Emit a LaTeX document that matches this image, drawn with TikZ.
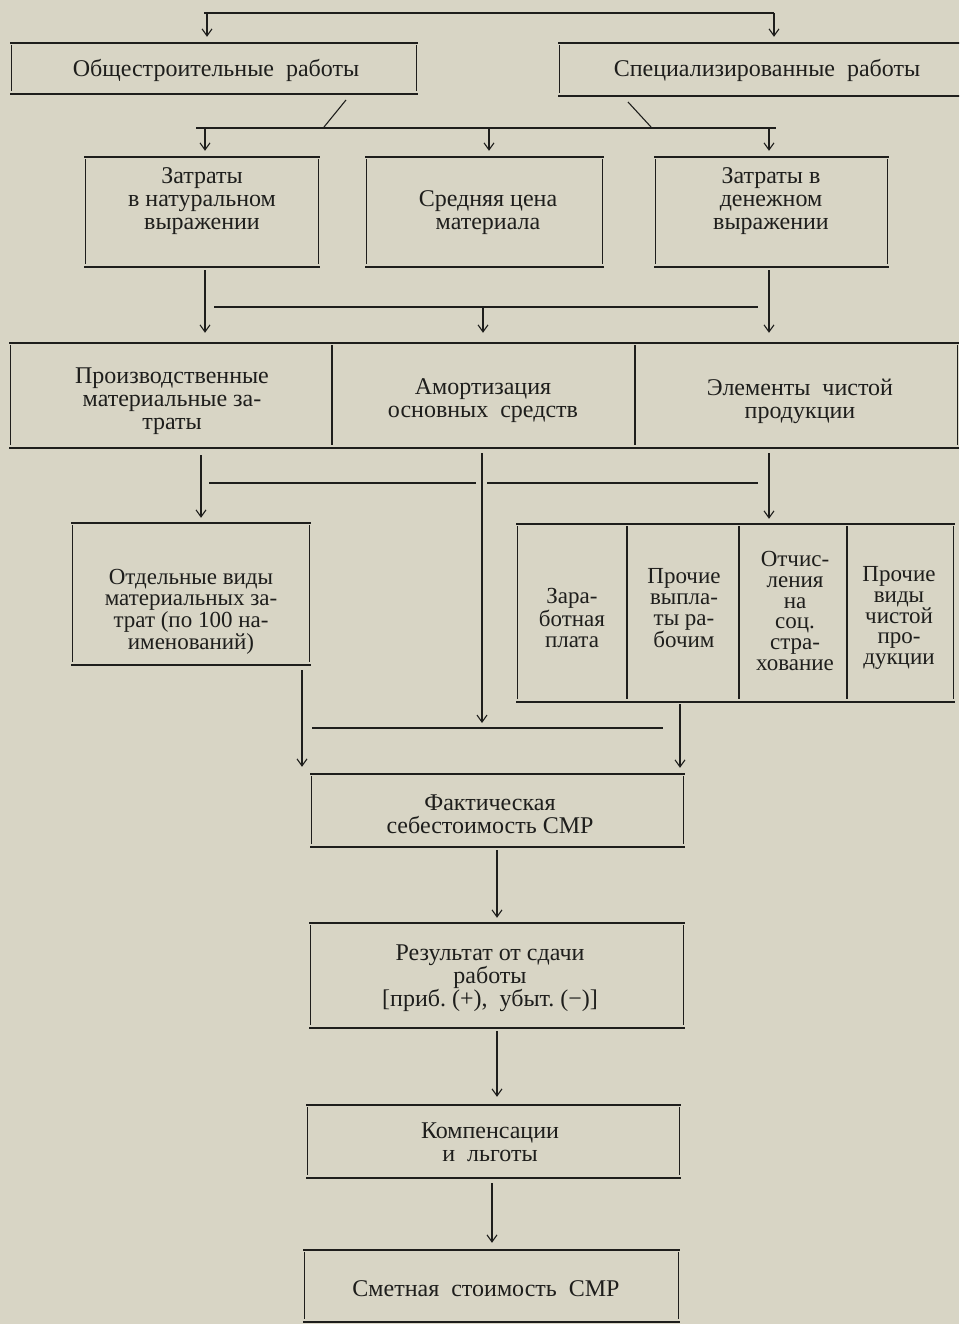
\documentclass[tikz,border=0pt]{standalone}
\usepackage{fontspec}
\setmainfont{Liberation Serif}
\usetikzlibrary{arrows.meta,fit}
\definecolor{paper}{RGB}{216,213,197}
\definecolor{ink}{RGB}{30,30,28}
\tikzset{
  hl/.style={draw=ink,line width=1.8pt},
  vl/.style={draw=ink,line width=1.1pt},
  cl/.style={draw=ink,line width=1.1pt},
  arr/.style={cl,-{Straight Barb[length=7pt,width=10pt,line width=1.1pt]},shorten >=6pt,shorten <=3pt},
  cellbox/.style={inner sep=0pt,draw=none},
  lbl/.style={inner sep=0pt,align=center,text=ink,font=\fontsize{24}{23}\selectfont},
  lbls/.style={inner sep=0pt,align=center,text=ink,font=\fontsize{23}{20.8}\selectfont}
}
\newcommand\hlines[1]{%
  \draw[hl] ([xshift=-1.5pt]#1.north west) -- ([xshift=1.5pt]#1.north east);
  \draw[hl] ([xshift=-1.5pt]#1.south west) -- ([xshift=1.5pt]#1.south east);}
\newcommand\vlines[1]{%
  \draw[vl] ([yshift=-2pt]#1.north west) -- ([yshift=3pt]#1.south west);
  \draw[vl] ([yshift=-2pt]#1.north east) -- ([yshift=3pt]#1.south east);}
\begin{document}
\begin{tikzpicture}[x=1pt,y=-1pt]
\useasboundingbox (0,0) rectangle (959,1324);
\fill[paper] (0,0) rectangle (959,1324);
\clip (0,0) rectangle (959,1324);

% ---- boxes ----
\node[cellbox,fit={(12,43) (416,94)}] (A) {};
\node[cellbox,fit={(560,43) (985,96)}] (B) {};
\node[cellbox,fit={(86,157) (318,267)}] (C1) {};
\node[cellbox,fit={(367,157) (602,267)}] (C2) {};
\node[cellbox,fit={(656,157) (887,267)}] (C3) {};
\node[cellbox,fit={(11,343) (957,448)}] (D) {};
\node[cellbox,fit={(11,343) (332,448)}] (D1) {};
\node[cellbox,fit={(332,343) (635,448)}] (D2) {};
\node[cellbox,fit={(635,343) (957,448)}] (D3) {};
\node[cellbox,fit={(73,523) (309,665)}] (E) {};
\node[cellbox,fit={(518,524) (953,702)}] (F) {};
\node[cellbox,fit={(518,524) (627,702)}] (F1) {};
\node[cellbox,fit={(627,524) (739,702)}] (F2) {};
\node[cellbox,fit={(739,524) (847,702)}] (F3) {};
\node[cellbox,fit={(847,524) (953,702)}] (F4) {};
\node[cellbox,fit={(312,774) (683,847)}] (G) {};
\node[cellbox,fit={(311,923) (683,1028)}] (H) {};
\node[cellbox,fit={(308,1105) (679,1178)}] (I) {};
\node[cellbox,fit={(305,1250) (678,1322)}] (J) {};

\foreach \n in {A,B,C1,C2,C3,D,E,F,G,H,I,J} {\hlines{\n}}
\foreach \n in {A,B,C1,C2,C3,D1,D2,D3,E,F1,F2,F3,F4,G,H,I,J} {\vlines{\n}}

% ---- texts ----
\node[lbl] (At) at (216,70) {Общестроительные~~работы};
\node[lbl] (Bt) at (767,70) {Специализированные~~работы};
\node[lbl] (C1t) at (202,201) {Затраты\\в натуральном\\выражении};
\node[lbl] (C2t) at (488,213) {Средняя цена\\материала};
\node[lbl] (C3t) at (771,201) {Затраты в\\денежном\\выражении};
\node[lbl] (D1t) at (172,401) {Производственные\\материальные за-\\траты};
\node[lbl] (D2t) at (483,401) {Амортизация\\основных~~средств};
\node[lbl] (D3t) at (800,401) {Элементы~~чистой\\продукции};
\node[lbls] (Et) at (191,612) {Отдельные виды\\материальных за-\\трат (по 100 на-\\именований)};
\node[lbls] (F1t) at (572,618) {Зара-\\ботная\\плата};
\node[lbls] (F2t) at (684,608) {Прочие\\выпла-\\ты ра-\\бочим};
\node[lbls] (F3t) at (795,611) {Отчис-\\ления\\на\\соц.\\стра-\\хование};
\node[lbls] (F4t) at (899,618) {Прочие\\виды\\чистой\\про-\\дукции};
\node[lbl] (Gt) at (490,814) {Фактическая\\себестоимость СМР};
\node[lbl] (Ht) at (490,978) {Результат от сдачи\\работы\\{[}приб.~(+),~~убыт.~(−){]}};
\node[lbl] (It) at (490,1142) {Компенсации\\и~~льготы};
\node[lbl] (Jt) at (486,1289) {Сметная~~стоимость~~СМР};

% ---- connectors: top ----
\coordinate (t1) at (204,13);
\coordinate (t2) at (774,13);
\draw[cl] (t1) -- (t2);
\coordinate (ta) at (207,13);
\draw[arr,shorten <=0pt] (ta) -- (ta |- A.north);
\draw[arr,shorten <=0pt] (t2) -- (t2 |- B.north);

% diagonals to second bar
\coordinate (da1) at (346,100);
\coordinate (da2) at (324,127);
\coordinate (db1) at (628,102);
\coordinate (db2) at (651,127);
\draw[cl] (da1) -- (da2);
\draw[cl] (db1) -- (db2);
\coordinate (b2l) at (196,128);
\coordinate (b2r) at (776,128);
\draw[cl] (b2l) -- (b2r);
\coordinate (b2a) at (205,128);
\coordinate (b2b) at (489,128);
\coordinate (b2c) at (769,128);
\draw[arr,shorten <=0pt] (b2a) -- (b2a |- C1.north);
\draw[arr,shorten <=0pt] (b2b) -- (b2b |- C2.north);
\draw[arr,shorten <=0pt] (b2c) -- (b2c |- C3.north);

% row 2 -> row 3
\draw[arr,shorten >=10pt] (C1.south -| b2a) -- (b2a |- D.north);
\draw[arr,shorten >=10pt] (C3.south -| b2c) -- (b2c |- D.north);
\coordinate (b3l) at (214,307);
\coordinate (b3r) at (758,307);
\coordinate (b3m) at (483,307);
\draw[cl] (b3l) -- (b3r);
\draw[arr,shorten <=0pt,shorten >=10pt] (b3m) -- (b3m |- D.north);

% row 3 -> row 4
\coordinate (x1) at (201,448);
\coordinate (x3) at (769,448);
\draw[arr,shorten <=7pt,shorten >=5pt] (x1) -- (x1 |- E.north);
\draw[arr,shorten <=5pt,shorten >=5pt] (x3) -- (x3 |- F.north);
\coordinate (m1) at (482,448);
\coordinate (m2) at (482,728);
\draw[arr,shorten <=5pt,shorten >=5pt] (m1) -- (m2);
\coordinate (s1a) at (209,483);
\coordinate (s1b) at (476,483);
\coordinate (s2a) at (487,483);
\coordinate (s2b) at (758,483);
\draw[cl] (s1a) -- (s1b);
\draw[cl] (s2a) -- (s2b);

% row 4 -> G
\coordinate (e1) at (302,665);
\coordinate (f1) at (680,702);
\draw[arr,shorten <=5pt,shorten >=7pt] (e1) -- (e1 |- G.north);
\draw[arr,shorten <=2pt,shorten >=6pt] (f1) -- (f1 |- G.north);
\coordinate (b4l) at (312,728);
\coordinate (b4r) at (663,728);
\draw[cl] (b4l) -- (b4r);

% lower chain
\coordinate (g1) at (497,847);
\draw[arr,shorten >=5pt] (g1) -- (g1 |- H.north);
\coordinate (h1) at (497,1028);
\draw[arr,shorten >=8pt] (h1) -- (h1 |- I.north);
\coordinate (i1) at (492,1178);
\draw[arr,shorten <=5pt,shorten >=7pt] (i1) -- (i1 |- J.north);
\end{tikzpicture}
\end{document}
